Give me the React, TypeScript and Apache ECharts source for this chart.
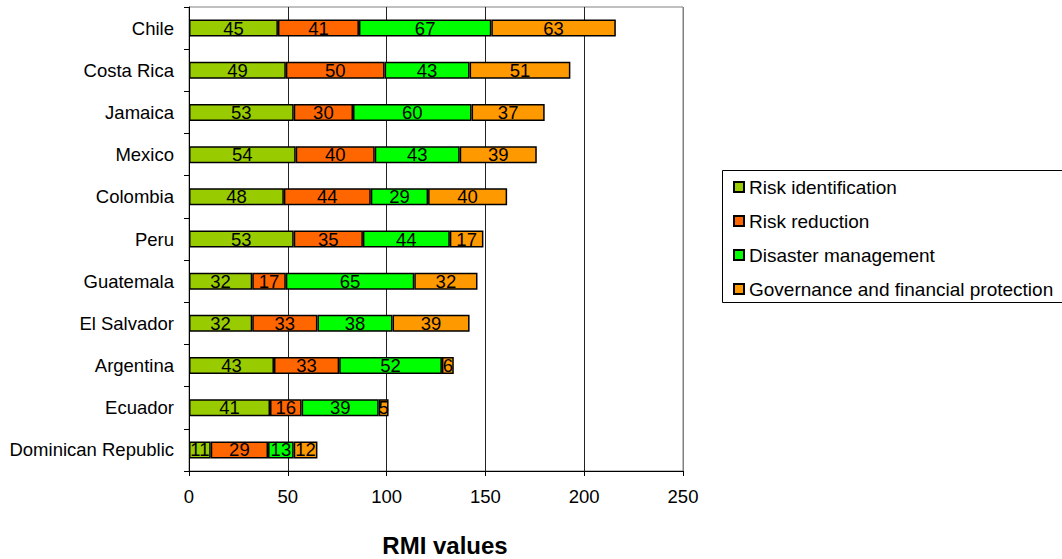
import React, { useEffect, useRef } from "react";
import * as echarts from "echarts";

const countries = [
  "Chile", "Costa Rica", "Jamaica", "Mexico", "Colombia", "Peru",
  "Guatemala", "El Salvador", "Argentina", "Ecuador", "Dominican Republic",
];
const riskIdentification = [45, 49, 53, 54, 48, 53, 32, 32, 43, 41, 11];
const riskReduction = [41, 50, 30, 40, 44, 35, 17, 33, 33, 16, 29];
const disasterManagement = [67, 43, 60, 43, 29, 44, 65, 38, 52, 39, 13];
const governance = [63, 51, 37, 39, 40, 17, 32, 39, 6, 5, 12];
const seriesNames = [
  "Risk identification",
  "Risk reduction",
  "Disaster management",
  "Governance and financial protection",
];
const seriesColors = ["#99CC00", "#FF6600", "#00FF00", "#FF9900"];
const xTicks = [0, 50, 100, 150, 200, 250];

const FONT = "'Liberation Sans', Arial, sans-serif";

export default function App() {
  const ref = useRef<HTMLDivElement>(null);
  useEffect(() => {
    document.body.style.margin = "0";
    const chart = echarts.init(ref.current!, null, { renderer: "svg" });
    const data = [riskIdentification, riskReduction, disasterManagement, governance];
    chart.setOption({
      animation: false,
      backgroundColor: "#fff",
      textStyle: { fontFamily: FONT },
      grid: {
        left: 189, top: 7, width: 494, height: 464,
        show: true, borderColor: "#808080", borderWidth: 1, containLabel: false,
      },
      legend: {
        orient: "vertical",
        left: 728,
        top: 172,
        itemWidth: 10,
        itemHeight: 10,
        itemGap: 14,
        icon: "rect",
        textStyle: { fontSize: 19, color: "#000", fontFamily: FONT, lineHeight: 20 },
        data: seriesNames,
      },
      graphic: [
        {
          type: "rect",
          shape: { x: 722.5, y: 170.5, width: 345, height: 132 },
          style: { fill: "none", stroke: "#000", lineWidth: 1 },
          silent: true,
        },
        {
          type: "text",
          x: 445,
          y: 545,
          style: {
            text: "RMI values",
            fontSize: 24,
            fontWeight: "bold",
            fill: "#000",
            fontFamily: FONT,
            align: "center",
            verticalAlign: "middle",
          },
          silent: true,
        },
      ],
      xAxis: {
        type: "value",
        min: xTicks[0],
        max: xTicks[xTicks.length - 1],
        interval: 50,
        axisLine: { show: true, lineStyle: { color: "#000", width: 1 } },
        axisTick: { show: true, length: 5, lineStyle: { color: "#000" } },
        axisLabel: { fontSize: 18.5, color: "#000", fontFamily: FONT, margin: 16 },
        splitLine: {
          show: true,
          lineStyle: { color: ["#808080", "#222", "#222", "#222", "#222", "#808080"], width: 1 },
        },
      },
      yAxis: {
        type: "category",
        inverse: true,
        data: countries,
        axisLine: { show: true, lineStyle: { color: "#000", width: 1 } },
        axisTick: { show: true, length: 5, lineStyle: { color: "#000" } },
        axisLabel: { fontSize: 18.5, color: "#000", fontFamily: FONT, margin: 15 },
      },
      series: data.map((vals, i) => ({
        name: seriesNames[i],
        type: "bar",
        stack: "total",
        barWidth: 17,
        data: vals,
        itemStyle: { color: seriesColors[i], borderColor: "#000", borderWidth: 1.5 },
        label: {
          show: true,
          position: "inside",
          color: "#000",
          fontSize: 18.5,
          fontFamily: FONT,
        },
      })),
    });
    return () => chart.dispose();
  }, []);
  return <div ref={ref} style={{ width: 1062, height: 559 }} />;
}
